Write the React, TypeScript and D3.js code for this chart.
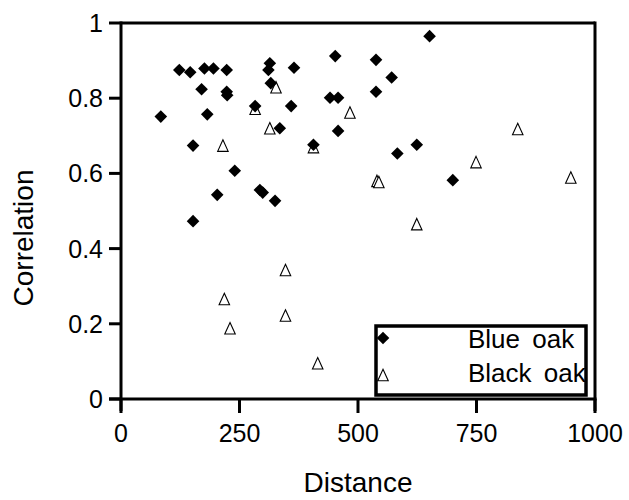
import React from 'react';
import * as d3 from 'd3';

// Blue oak (filled diamonds)
const blueDist = [84, 123, 146, 176, 195, 223, 170, 223, 224, 182, 283, 152, 240, 203, 293, 299, 152, 325,
  314, 311, 316, 335, 359, 365, 406, 452, 441, 458, 458, 651, 538, 571, 538, 624, 583, 700];
const blueCorr = [0.751, 0.875, 0.869, 0.879, 0.879, 0.875, 0.824, 0.817, 0.808, 0.757, 0.779, 0.674, 0.607, 0.543, 0.556, 0.549, 0.473, 0.527,
  0.893, 0.875, 0.840, 0.720, 0.779, 0.881, 0.676, 0.912, 0.801, 0.801, 0.713, 0.965, 0.902, 0.855, 0.817, 0.676, 0.653, 0.582];

// Black oak (open triangles)
const blackDist = [283, 215, 327, 314, 406, 483, 347, 218, 230, 347, 415, 624, 837, 749, 540, 544, 949];
const blackCorr = [0.772, 0.674, 0.829, 0.720, 0.670, 0.762, 0.343, 0.266, 0.188, 0.222, 0.095, 0.465, 0.718, 0.630, 0.580, 0.577, 0.589];

const xTicks = [0, 250, 500, 750, 1000];
const yTicks = [0, 0.2, 0.4, 0.6, 0.8, 1];
const seriesNames = ['Blue oak', 'Black oak'];

const W = 629, H = 500;
const FONT = '"Liberation Sans", Arial, sans-serif';

const diamond = (cx: number, cy: number, r = 6.3) =>
  `M${cx},${cy - r}L${cx + r},${cy}L${cx},${cy + r}L${cx - r},${cy}Z`;
const triangle = (cx: number, cy: number, w = 10.5, h = 11.5) =>
  `M${cx},${cy - h / 2}L${cx + w / 2},${cy + h / 2}L${cx - w / 2},${cy + h / 2}Z`;

export default function App() {
  const x = d3.scaleLinear().domain([0, 1000]).range([121, 595]);
  const y = d3.scaleLinear().domain([0, 1]).range([399, 23]);
  const [x0, x1] = x.range();
  const [y0, y1] = y.range();
  const tick = 12;
  const axisW = 3;

  const blue = blueDist.map((d, i) => ({ d, c: blueCorr[i] }));
  const black = blackDist.map((d, i) => ({ d, c: blackCorr[i] }));

  // legend box
  const lg = { x: 376, y: 326, w: 210, h: 69 };

  return (
    <svg width={W} height={H} style={{ position: 'absolute', left: 0, top: 0, background: '#fff' }} fontFamily={FONT}>
      {/* open triangles first, diamonds drawn over them */}
      {black.map((p, i) => (
        <path key={'t' + i} d={triangle(x(p.d), y(p.c))} fill="#fff" stroke="#000" strokeWidth={1.1} />
      ))}
      {blue.map((p, i) => (
        <path key={'d' + i} d={diamond(x(p.d), y(p.c))} fill="#000" />
      ))}

      {/* frame */}
      <line x1={x0} x2={x1} y1={y1} y2={y1} stroke="#000" strokeWidth={axisW} />
      <line x1={x1} x2={x1} y1={y1 - 1.5} y2={y0 + tick} stroke="#000" strokeWidth={axisW} />
      <line x1={x0 - tick} x2={x1 + 1.5} y1={y0} y2={y0} stroke="#000" strokeWidth={axisW} />
      <line x1={x0} x2={x0} y1={y1 - 1.5} y2={y0 + tick} stroke="#000" strokeWidth={axisW} />

      {/* y ticks */}
      {yTicks.map(t => (
        <g key={'y' + t}>
          <line x1={x0 - tick} x2={x0} y1={y(t)} y2={y(t)} stroke="#000" strokeWidth={axisW} />
          <text x={x0 - 18} y={y(t)} dy="0.36em" textAnchor="end" fontSize={25}>{String(t)}</text>
        </g>
      ))}
      {/* x ticks */}
      {xTicks.map(t => (
        <g key={'x' + t}>
          <line x1={x(t)} x2={x(t)} y1={y0} y2={y0 + tick + 2} stroke="#000" strokeWidth={axisW} />
          <text x={x(t)} y={442} textAnchor="middle" fontSize={25}>{String(t)}</text>
        </g>
      ))}

      {/* axis titles */}
      <text x={(x0 + x1) / 2} y={492} textAnchor="middle" fontSize={28}>Distance</text>
      <text transform={`translate(33,${238}) rotate(-90)`} textAnchor="middle" fontSize={28}>Correlation</text>

      {/* legend */}
      <rect x={lg.x} y={lg.y} width={lg.w} height={lg.h} fill="#fff" />
      <path d={diamond(lg.x + 7, 338)} fill="#000" />
      <path d={triangle(lg.x + 7, 375)} fill="#fff" stroke="#000" strokeWidth={1.1} />
      <text x={468} y={348} fontSize={26} style={{ wordSpacing: '5px' }}>{seriesNames[0]}</text>
      <text x={468} y={382} fontSize={26} style={{ wordSpacing: '5px' }}>{seriesNames[1]}</text>
      <rect x={lg.x} y={lg.y} width={lg.w} height={lg.h} fill="none" stroke="#000" strokeWidth={3.5} />
    </svg>
  );
}
